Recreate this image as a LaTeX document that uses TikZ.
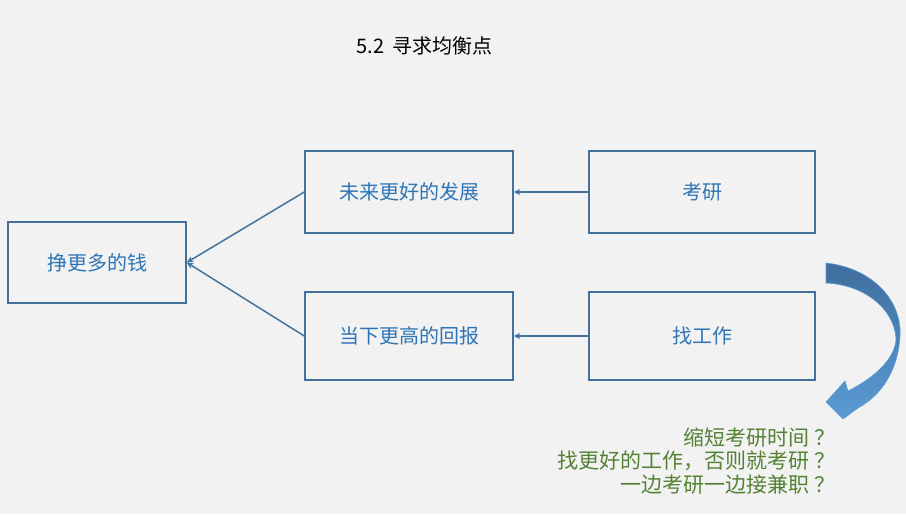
\documentclass[tikz,border=0pt]{standalone}
\usepackage{fontspec}
\setmainfont{Noto Sans CJK SC}
\usepackage{xcolor}
\usetikzlibrary{arrows.meta}

\definecolor{bgray}{HTML}{F2F2F2}
\definecolor{boxline}{HTML}{41719C}
\definecolor{boxtext}{HTML}{2E75B6}
\definecolor{notegreen}{HTML}{548235}
\definecolor{arrowdark}{HTML}{3F6E9D}
\definecolor{arrowlight}{HTML}{5B9BD5}

\tikzset{
    goalbox/.style={draw=boxline, line width=1.1pt, fill=bgray, text=boxtext,
        font=\fontsize{15pt}{18pt}\selectfont, inner sep=0pt},
    link/.style={draw=boxline, line width=1.1pt, -{Stealth[length=5pt,width=4.5pt]}}
}

\begin{document}
\begin{tikzpicture}[x=0.75pt, y=-0.75pt]
    		\fill[bgray] (0,0) rectangle (906,514);
    		\useasboundingbox (0,0) rectangle (906,514);
    		
    		\node[font=\fontsize{15pt}{18pt}\selectfont] (title) at (424.5,46) {5.2\hspace{0.15em} 寻求均衡点};
    		
    		\foreach \name/\x/\y/\w/\h/\label in {
    			money/97/262.5/133.5pt/60.75pt/挣更多的钱,
    			future/409/192/156pt/61.5pt/未来更好的发展,
    			now/409/336/156pt/66pt/当下更高的回报,
    			kaoyan/702/192/169.5pt/61.5pt/考研,
    			job/702/336/169.5pt/66pt/找工作
    		}{
    			\node[goalbox, minimum width=\w, minimum height=\h] (\name) at (\x,\y) {\label};
    		}
    		
    		\draw[link] (kaoyan.west) -- (future.east);
    		\draw[link] (job.west) -- (now.east);
    		\draw[link] (future.west) -- (money.east);
    		\draw[link] (now.west) -- (money.east);
    		
    		% curved block arrow
    		\shade[top color=arrowdark, bottom color=arrowlight, draw=arrowlight, line width=0.4pt]
    			(826,263) .. controls (872,268) and (902,300) .. (900,336)
    			.. controls (898,370) and (882,395) .. (858,408)
    			-- (843,419) -- (826,402) -- (845,381) -- (848,391)
    			.. controls (878,376) and (896,356) .. (896,338)
    			.. controls (894,310) and (866,285) .. (826,283) -- cycle;
    		
    		\node[anchor=east, align=right, text=notegreen,
    			font=\fontsize{15.75pt}{17.6pt}\selectfont] (notes) at (840,461)
    			{缩短考研时间\hspace{0.25em}？\\找更好的工作，否则就考研\hspace{0.25em}？\\一边考研一边接兼职\hspace{0.25em}？};
    	\end{tikzpicture}
\end{document}
